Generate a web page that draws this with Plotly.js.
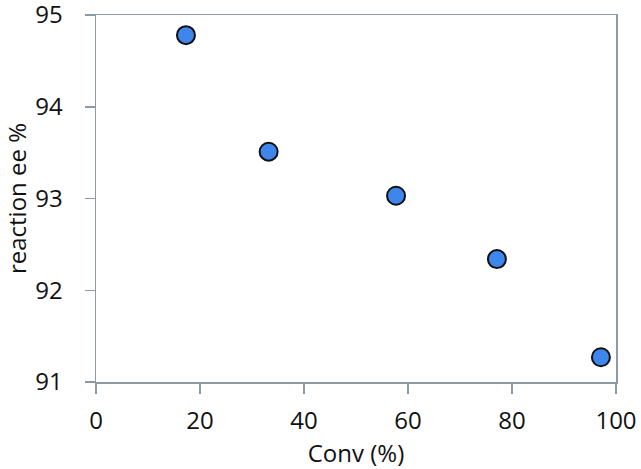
<!DOCTYPE html>
<html>
<head>
<meta charset="utf-8">
<script src="https://cdn.plot.ly/plotly-3.0.1.min.js"></script>
<style>html,body{margin:0;padding:0;background:#fff;}#chart{width:641px;height:469px;}</style>
</head>
<body>
<div id="chart"></div>
<script>
const conv = [17.3, 33.2, 57.7, 77.1, 97.1];
const ee = [94.78, 93.51, 93.03, 92.34, 91.27];
const xTicks = [0, 20, 40, 60, 80, 100];
const yTicks = [91, 92, 93, 94, 95];

const axisColor = '#8d9aa3';
const fontFam = 'Open Sans, Lato, sans-serif';

Plotly.newPlot('chart', [{
  type: 'scatter',
  mode: 'markers',
  x: conv,
  y: ee,
  marker: {size: 18, color: '#3f86ec', line: {color: '#111111', width: 2}},
  hoverinfo: 'skip'
}], {
  width: 641, height: 469,
  margin: {l: 96, r: 25, t: 15, b: 87},
  paper_bgcolor: '#fff', plot_bgcolor: '#fff',
  showlegend: false,
  font: {family: fontFam, color: '#111'},
  xaxis: {
    range: [0, 100], tickvals: xTicks, ticktext: xTicks.map(String),
    showgrid: false, zeroline: false,
    showline: true, linecolor: axisColor, linewidth: 1.5, mirror: true,
    ticks: 'outside', ticklen: 10, tickcolor: axisColor, tickwidth: 1.5,
    ticklabelstandoff: 7, ticklabeloverflow: 'allow',
    tickfont: {size: 24, family: fontFam, color: '#111'},
    title: {text: 'Conv (%)', font: {size: 24, family: fontFam, color: '#111'}, standoff: 8}
  },
  yaxis: {
    range: [91, 95], tickvals: yTicks, ticktext: yTicks.map(String),
    showgrid: false, zeroline: false,
    showline: true, linecolor: axisColor, linewidth: 1.5, mirror: true,
    ticks: 'outside', ticklen: 10, tickcolor: axisColor, tickwidth: 1.5,
    ticklabelstandoff: 17, ticklabeloverflow: 'allow',
    tickfont: {size: 24, family: fontFam, color: '#111'},
    title: {text: 'reaction ee %', font: {size: 24, family: fontFam, color: '#111'}, standoff: 4}
  }
}, {staticPlot: true, displayModeBar: false});
</script>
</body>
</html>
